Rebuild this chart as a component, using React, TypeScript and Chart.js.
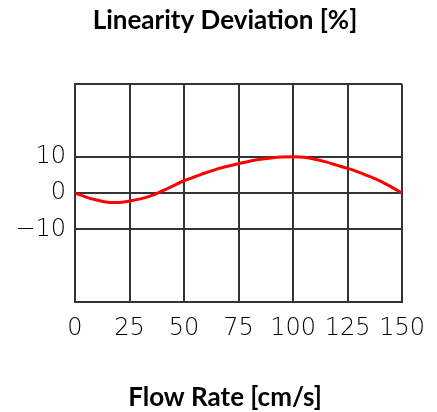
import React, { useEffect, useRef } from "react";
import { Chart, registerables } from "chart.js";

Chart.register(...registerables);

const flowRate = [0, 5, 10, 15, 20, 25, 30, 35, 40, 45, 50, 55, 60, 65, 70, 75, 80, 85, 90, 95, 100, 105, 110, 115, 120, 125, 130, 135, 140, 145, 150];
const deviation = [0, -1.1, -1.9, -2.5, -2.6, -2.2, -1.6, -0.7, 0.6, 2.0, 3.4, 4.5, 5.6, 6.6, 7.4, 8.1, 8.8, 9.3, 9.7, 9.95, 10.0, 9.85, 9.35, 8.6, 7.7, 6.8, 5.8, 4.6, 3.3, 1.7, 0];
const yTickValues = [-30, -10, 0, 10, 30];
const yTickLabels: Record<number, string> = { [-10]: "\u221210", 0: "0", 10: "10" };

const titleText = "Linearity Deviation [%]";
const xTitleText = "Flow Rate [cm/s]";

export default function App() {
  const ref = useRef<HTMLCanvasElement | null>(null);
  useEffect(() => {
    if (!ref.current) return;
    const gridColor = "#333333";
    const tickFont = { family: "DejaVu Sans", size: 24, weight: "200" };
    const chart = new Chart(ref.current, {
      type: "line",
      data: {
        datasets: [
          {
            data: flowRate.map((x, i) => ({ x, y: deviation[i] })),
            borderColor: "#ff0000",
            borderWidth: 3,
            pointRadius: 0,
            tension: 0.4,
            cubicInterpolationMode: "monotone",
            fill: false,
          },
        ],
      },
      options: {
        responsive: false,
        animation: false,
        layout: { padding: { left: 13, right: 0, top: 0, bottom: 0 } },
        plugins: {
          legend: { display: false },
          tooltip: { enabled: false },
          title: {
            display: true,
            text: titleText,
            color: "#000",
            font: { family: "Lato", weight: "bold", size: 26, lineHeight: 1.2 },
            padding: { top: 5, bottom: 48 },
          },
          subtitle: {
            display: true,
            position: "bottom",
            text: xTitleText,
            color: "#000",
            font: { family: "Lato", weight: "bold", size: 26, lineHeight: 1.0 },
            padding: { top: 0, bottom: 1 },
          },
        },
        scales: {
          x: {
            type: "linear",
            min: 0,
            max: 150,
            ticks: {
              stepSize: 25,
              autoSkip: false,
              maxRotation: 0,
              color: "#000",
              padding: 12,
              font: tickFont as any,
            },
            grid: { color: gridColor, lineWidth: 2, drawTicks: false },
            border: { color: gridColor, width: 2 },
            afterFit: (s: any) => {
              s.height = 83;
            },
          },
          y: {
            type: "linear",
            min: -30,
            max: 30,
            afterBuildTicks: (s: any) => {
              s.ticks = yTickValues.map((v) => ({ value: v }));
            },
            ticks: {
              color: "#000",
              padding: 9,
              font: tickFont as any,
              callback: (v: any) => yTickLabels[v as number] ?? "",
            },
            grid: { color: gridColor, lineWidth: 2, drawTicks: false },
            border: { color: gridColor, width: 2 },
            afterFit: (s: any) => {
              s.width = 62;
            },
          },
          yRight: {
            type: "linear",
            position: "right",
            min: -30,
            max: 30,
            grid: { display: false, drawTicks: false },
            border: { display: false },
            ticks: { display: false },
            afterFit: (s: any) => {
              s.width = 31;
            },
          },
        },
      },
    });
    return () => chart.destroy();
  }, []);
  return (
    <canvas
      ref={ref}
      width={437}
      height={412}
      style={{ position: "fixed", left: 0, top: 0, width: 437, height: 412 }}
    />
  );
}
